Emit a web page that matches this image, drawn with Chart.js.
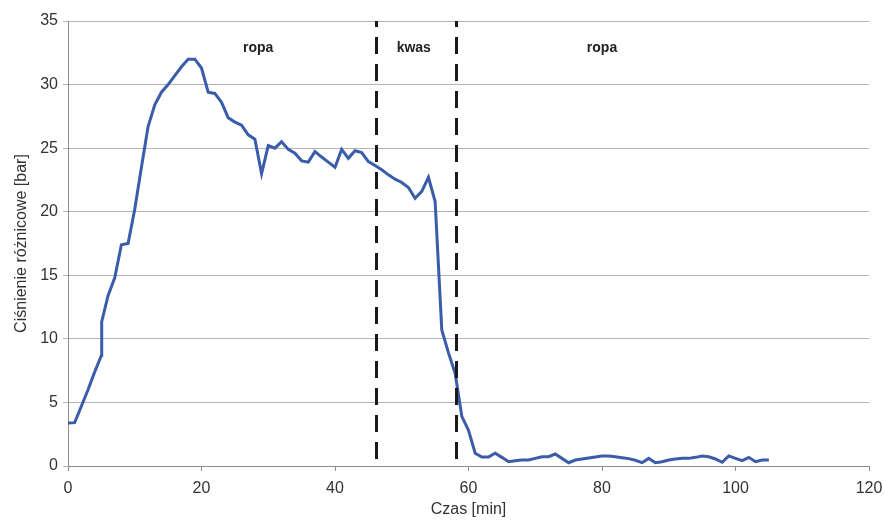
<!DOCTYPE html>
<html>
<head>
<meta charset="utf-8">
<script src="https://cdn.jsdelivr.net/npm/chart.js@4/dist/chart.umd.min.js"></script>
<style>
    html, body { margin: 0; padding: 0; background: #fff; }
    #wrap { width: 884px; height: 521px; }
</style>
</head>
<body>
<div id="wrap"><canvas id="chartCanvas" width="884" height="521"></canvas></div>
<script>
// Czas [min]
const czas = [0, 1, 2, 3, 4, 5, 5.05, 6, 7, 8, 9, 10, 11, 12, 13, 14, 15, 16, 17, 18, 19,
    20, 21, 22, 23, 24, 25, 26, 27, 28, 29, 30, 31, 32, 33, 34, 35, 36, 37, 38, 39,
    40, 41, 42, 43, 44, 45, 46, 47, 48, 49, 50, 51, 52, 53, 54, 55, 56, 57, 58, 59,
    60, 61, 62, 63, 64, 65, 66, 67, 68, 69, 70, 71, 72, 73, 74, 75, 76, 77, 78, 79,
    80, 81, 82, 83, 84, 85, 86, 87, 88, 89, 90, 91, 92, 93, 94, 95, 96, 97, 98, 99,
    100, 101, 102, 103, 104, 105];

// Ciśnienie różnicowe [bar]
const cisnienie = [3.38, 3.41, 4.7, 6.0, 7.4, 8.7, 11.35, 13.4, 14.8, 17.4, 17.5, 20.2, 23.5, 26.7, 28.4, 29.4, 30.0, 30.7, 31.4, 32.0, 32.0,
    31.3, 29.4, 29.3, 28.6, 27.4, 27.05, 26.8, 26.05, 25.7, 23.0, 25.2, 25.0, 25.5, 24.9, 24.6, 24.0, 23.9, 24.73, 24.3, 23.9,
    23.5, 24.9, 24.2, 24.8, 24.65, 23.94, 23.63, 23.3, 22.9, 22.56, 22.3, 21.9, 21.06, 21.6, 22.7, 20.8, 10.7, 8.9, 7.3, 3.9,
    2.8, 1.0, 0.7, 0.7, 1.0, 0.68, 0.34, 0.42, 0.47, 0.47, 0.6, 0.73, 0.73, 0.94, 0.6, 0.26, 0.47, 0.55, 0.63, 0.71,
    0.79, 0.79, 0.73, 0.65, 0.58, 0.45, 0.26, 0.6, 0.26, 0.34, 0.47, 0.55, 0.6, 0.6, 0.68, 0.79, 0.73, 0.55, 0.29, 0.79,
    0.6, 0.42, 0.68, 0.34, 0.47, 0.47];

// Granice stref (min) i opisy stref
const granice = [46.1, 58.2];
const strefy = ['ropa', 'kwas', 'ropa'];
const strefyCzas = [28.5, 51.8, 80];
const strefyCisnienie = 32.9;

const punkty = czas.map((t, i) => ({ x: t, y: cisnienie[i] }));

const FONT = "'Liberation Sans', Arial, sans-serif";

// Dashed dividers + zone labels
const strefyPlugin = {
    id: 'strefy',
    afterDatasetsDraw(chart) {
        const ctx = chart.ctx;
        const xs = chart.scales.x;
        const ys = chart.scales.y;
        const area = chart.chartArea;

        ctx.save();
        ctx.strokeStyle = '#1a1a1a';
        ctx.lineWidth = 3;
        ctx.setLineDash([17, 10]);
        ctx.lineDashOffset = 11;
        granice.forEach(g => {
            const px = Math.round(xs.getPixelForValue(g)) + 0.5;
            ctx.beginPath();
            ctx.moveTo(px, area.top);
            ctx.lineTo(px, area.bottom);
            ctx.stroke();
        });
        ctx.setLineDash([]);

        ctx.fillStyle = '#222';
        ctx.font = 'bold 14px ' + FONT;
        ctx.textAlign = 'center';
        ctx.textBaseline = 'middle';
        strefy.forEach((s, i) => {
            ctx.fillText(s, xs.getPixelForValue(strefyCzas[i]), ys.getPixelForValue(strefyCisnienie));
        });
        ctx.restore();
    }
};

new Chart(document.getElementById('chartCanvas'), {
    type: 'line',
    data: {
        datasets: [{
            data: punkty,
            borderColor: '#3a5ca9',
            borderWidth: 3,
            pointRadius: 0,
            tension: 0,
            fill: false
        }]
    },
    options: {
        responsive: false,
        animation: false,
        layout: {
            padding: { top: 21, right: 15, bottom: 0, left: 0 }
        },
        plugins: {
            legend: { display: false },
            tooltip: { enabled: false }
        },
        scales: {
            x: {
                type: 'linear',
                min: 0,
                max: 120,
                ticks: {
                    stepSize: 20,
                    color: '#333',
                    padding: 8,
                    font: { family: FONT, size: 16 }
                },
                grid: {
                    drawOnChartArea: false,
                    drawTicks: true,
                    tickLength: 5,
                    color: '#8c8c8c'
                },
                border: { color: '#8c8c8c', width: 1 },
                title: {
                    display: true,
                    text: 'Czas [min]',
                    color: '#333',
                    font: { family: FONT, size: 16 },
                    padding: { top: 2, bottom: 2 }
                },
                afterFit: s => {
                    s.height = 55;
                    s.paddingLeft = 0;
                    s.paddingRight = 0;
                }
            },
            y: {
                min: 0,
                max: 35,
                ticks: {
                    stepSize: 5,
                    color: '#333',
                    padding: 5,
                    font: { family: FONT, size: 16 }
                },
                grid: {
                    color: '#b4b4b4',
                    tickLength: 5
                },
                border: { color: '#8c8c8c', width: 1 },
                title: {
                    display: true,
                    text: 'Ciśnienie różnicowe [bar]',
                    color: '#333',
                    font: { family: FONT, size: 16 },
                    padding: { top: 12, bottom: 12 }
                },
                afterFit: s => { s.width = 68; }
            }
        }
    },
    plugins: [strefyPlugin]
});
</script>
</body>
</html>
